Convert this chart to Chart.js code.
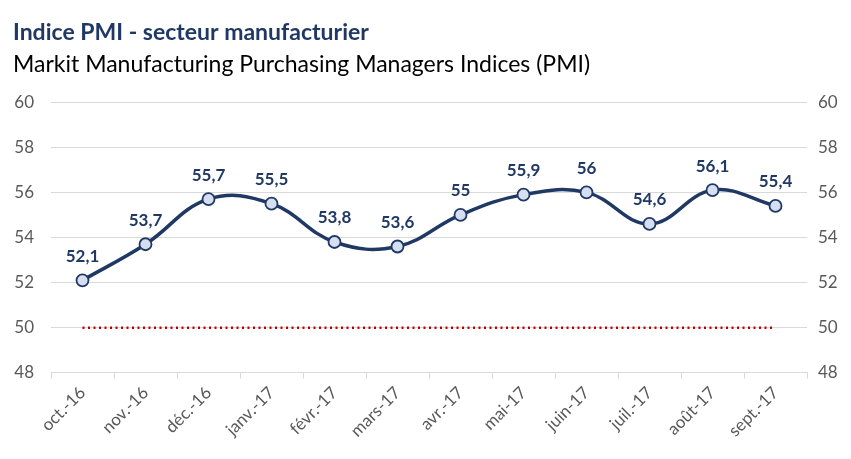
<!DOCTYPE html>
<html>
<head>
<meta charset="utf-8">
<script src="https://cdn.jsdelivr.net/npm/chart.js@4/dist/chart.umd.min.js"></script>
<style>
    html, body { margin: 0; padding: 0; background: #fff; }
    #wrap { width: 851px; height: 459px; }
</style>
</head>
<body>
<div id="wrap"><canvas id="graficoPmi"></canvas></div>
<script>
(function (window, document) {
    'use strict';

    var mois = ['oct.-16', 'nov.-16', 'déc.-16', 'janv.-17', 'févr.-17', 'mars-17', 'avr.-17', 'mai-17', 'juin-17', 'juil.-17', 'août-17', 'sept.-17'];
    var valeursPmi = [52.1, 53.7, 55.7, 55.5, 53.8, 53.6, 55, 55.9, 56, 54.6, 56.1, 55.4];
    var seuil = [50, 50, 50, 50, 50, 50, 50, 50, 50, 50, 50, 50];
    var yMin = 48, yMax = 60, yPas = 2;

    var bleu = '#1F3864';
    var police = 'Lato, "Open Sans", sans-serif';

    // etiquettes de valeurs au-dessus des points (format francais)
    var etiquettes = {
        id: 'etiquettes',
        afterDatasetsDraw: function (chart) {
            var ctx = chart.ctx;
            var meta = chart.getDatasetMeta(0);
            ctx.save();
            ctx.font = 'bold 17px ' + police;
            ctx.fillStyle = bleu;
            ctx.textAlign = 'center';
            ctx.textBaseline = 'middle';
            meta.data.forEach(function (pt, i) {
                var txt = String(valeursPmi[i]).replace('.', ',');
                ctx.fillText(txt, pt.x, pt.y - 24);
            });
            ctx.restore();
        }
    };

    var $grafico = document.getElementById('graficoPmi');
    new Chart($grafico, {
        type: 'line',
        data: {
            labels: mois,
            datasets: [{
                data: valeursPmi,
                borderColor: bleu,
                borderWidth: 3.5,
                tension: 0.4,
                pointRadius: 6,
                pointBackgroundColor: '#D6DFF0',
                pointBorderColor: bleu,
                pointBorderWidth: 1.8,
                yAxisID: 'y'
            }, {
                data: seuil,
                borderColor: '#C00000',
                borderWidth: 2.5,
                borderDash: [2, 3.5],
                pointRadius: 0,
                tension: 0,
                yAxisID: 'y'
            }]
        },
        options: {
            responsive: true,
            maintainAspectRatio: false,
            animation: false,
            layout: { padding: { left: 13, right: 13, top: 7, bottom: 14 } },
            plugins: {
                legend: { display: false },
                tooltip: { enabled: false },
                title: {
                    display: true,
                    text: 'Indice PMI - secteur manufacturier',
                    align: 'start',
                    color: bleu,
                    font: { family: police, size: 23, weight: 'bold' },
                    padding: { top: 12, bottom: 2 }
                },
                subtitle: {
                    display: true,
                    text: 'Markit Manufacturing Purchasing Managers Indices (PMI)',
                    align: 'start',
                    color: '#000',
                    font: { family: police, size: 23 },
                    padding: { top: 2, bottom: 24 }
                }
            },
            scales: {
                x: {
                    offset: true,
                    grid: { drawOnChartArea: false, drawTicks: true, tickLength: 6, offset: true, color: '#D9D9D9' },
                    border: { color: '#D9D9D9' },
                    ticks: {
                        color: '#595959',
                        font: { family: police, size: 17 },
                        minRotation: 45,
                        maxRotation: 45,
                        padding: 4
                    },
                    afterFit: function (scale) {
                        scale.paddingLeft = 0;
                        scale.paddingRight = 0;
                    }
                },
                y: {
                    position: 'left',
                    min: yMin, max: yMax,
                    grid: { color: '#D9D9D9', drawTicks: false },
                    border: { display: false },
                    ticks: { stepSize: yPas, color: '#595959', font: { family: police, size: 17 }, padding: 17 },
                    afterFit: function (scale) { scale.width = 38; }
                },
                y2: {
                    position: 'right',
                    min: yMin, max: yMax,
                    grid: { drawOnChartArea: false, drawTicks: false },
                    border: { display: false },
                    ticks: { stepSize: yPas, color: '#595959', font: { family: police, size: 17 }, padding: 11 },
                    afterFit: function (scale) { scale.width = 31; }
                }
            }
        },
        plugins: [etiquettes]
    });
})(window, document);
</script>
</body>
</html>
